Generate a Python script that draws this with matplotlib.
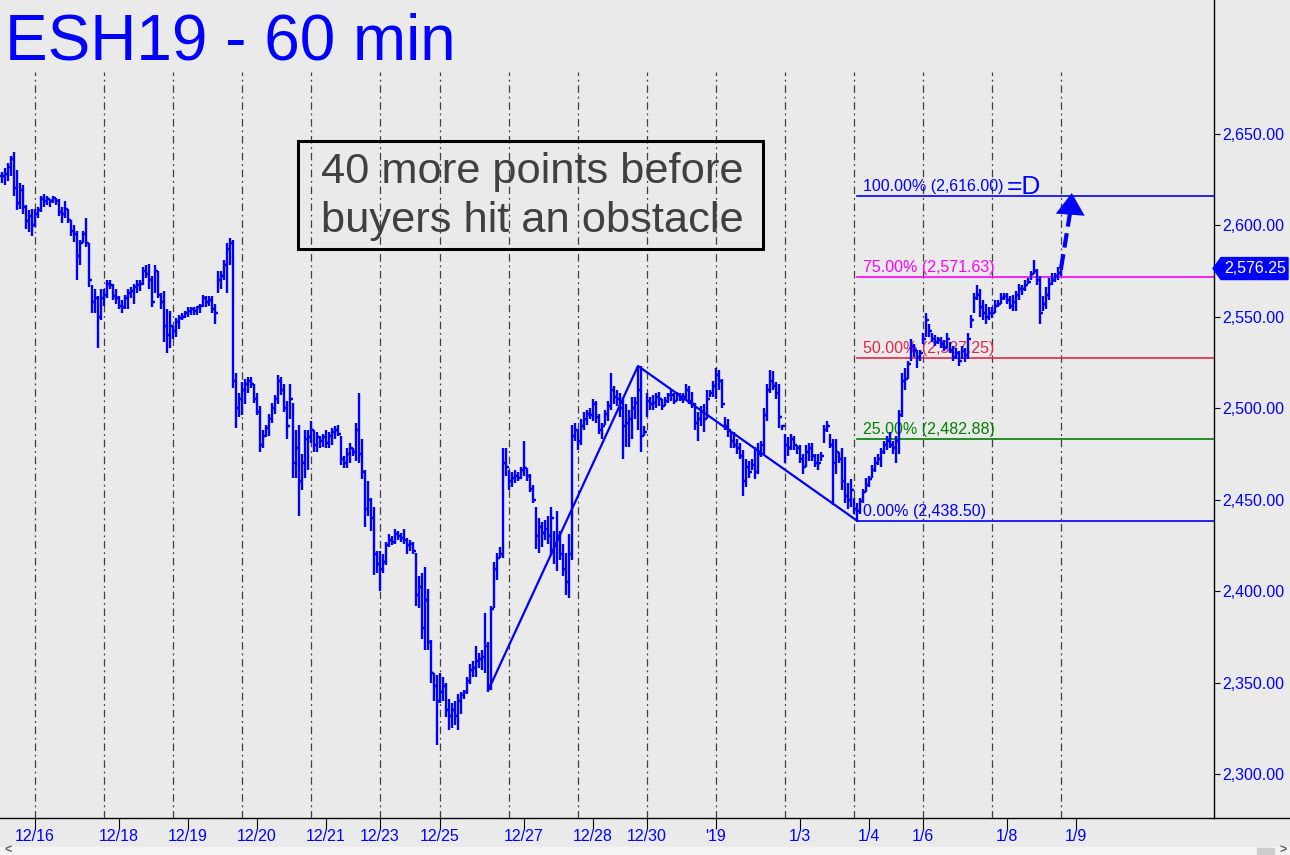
import numpy as np
import matplotlib.pyplot as plt
from matplotlib.collections import LineCollection
from matplotlib.patches import Rectangle, Polygon
from matplotlib.lines import Line2D
import matplotlib.transforms as mtransforms

plt.rcParams['font.family'] = ['Liberation Sans', 'DejaVu Sans']

# hourly bars as (high, low, close), one list per session
pre = [(2629, 2623, 2627), (2631, 2622, 2628), (2634, 2624, 2632), (2638, 2627, 2636), (2640, 2616, 2620),
       (2630, 2608, 2612), (2623, 2609, 2619), (2622, 2606, 2610), (2611, 2598, 2602), (2608, 2596, 2605),
       (2609, 2594, 2600)]
s1217 = [(2609, 2599, 2606), (2610, 2604, 2608), (2616, 2607, 2614), (2617, 2610, 2613), (2616, 2611, 2614),
         (2614, 2610, 2613), (2616, 2612, 2615), (2615, 2611, 2613), (2614, 2605, 2607), (2610, 2601, 2606),
         (2613, 2604, 2609), (2609, 2601, 2603), (2603, 2594, 2597), (2600, 2591, 2595), (2597, 2570, 2583),
         (2592, 2578, 2590), (2597, 2590, 2595), (2604, 2588, 2590), (2590, 2566, 2570), (2567, 2552, 2558),
         (2565, 2552, 2560), (2561, 2533, 2550), (2565, 2548, 2560)]
s1218 = [(2565, 2556, 2562), (2570, 2560, 2568), (2570, 2565, 2567), (2568, 2559, 2561), (2565, 2557, 2560),
         (2561, 2554, 2556), (2559, 2552, 2555), (2562, 2554, 2560), (2565, 2554, 2563), (2566, 2560, 2564),
         (2568, 2557, 2566), (2570, 2563, 2567), (2570, 2564, 2568), (2577, 2567, 2575), (2578, 2571, 2573),
         (2579, 2565, 2570), (2572, 2555, 2558), (2578, 2563, 2575), (2575, 2560, 2562), (2563, 2554, 2558),
         (2564, 2536, 2545), (2554, 2530, 2540), (2553, 2533, 2545)]
s1219 = [(2545, 2538, 2542), (2549, 2539, 2547), (2551, 2543, 2549), (2552, 2548, 2550), (2553, 2549, 2552),
         (2555, 2550, 2553), (2555, 2551, 2554), (2555, 2551, 2553), (2556, 2551, 2555), (2557, 2552, 2556),
         (2562, 2555, 2560), (2561, 2555, 2558), (2561, 2556, 2559), (2561, 2552, 2554), (2557, 2546, 2552),
         (2575, 2563, 2570), (2575, 2565, 2572), (2581, 2570, 2578), (2590, 2563, 2587), (2593, 2578, 2590),
         (2592, 2511, 2515), (2519, 2489, 2500), (2508, 2495, 2505)]
s1220 = [(2514, 2496, 2510), (2516, 2502, 2513), (2517, 2508, 2515), (2517, 2511, 2513), (2513, 2503, 2505),
         (2508, 2496, 2498), (2501, 2476, 2480), (2488, 2478, 2485), (2491, 2484, 2489), (2497, 2485, 2494),
         (2503, 2492, 2500), (2507, 2497, 2505), (2518, 2502, 2515), (2517, 2507, 2510), (2513, 2498, 2500),
         (2504, 2483, 2490), (2513, 2494, 2505), (2503, 2462, 2470), (2488, 2462, 2478), (2491, 2441, 2460),
         (2475, 2455, 2470), (2488, 2462, 2483), (2488, 2466, 2484)]
s1221 = [(2493, 2481, 2488), (2488, 2476, 2480), (2487, 2476, 2484), (2485, 2478, 2482), (2486, 2479, 2484),
         (2488, 2478, 2481), (2487, 2478, 2485), (2489, 2480, 2487), (2490, 2483, 2488), (2491, 2485, 2486),
         (2485, 2469, 2472), (2474, 2467, 2470), (2478, 2467, 2475), (2481, 2470, 2478), (2478, 2474, 2476),
         (2492, 2471, 2488), (2508, 2470, 2475), (2483, 2461, 2465), (2466, 2435, 2445), (2460, 2441, 2450),
         (2451, 2433, 2440), (2446, 2409, 2420), (2422, 2410, 2415)]
s1224 = [(2422, 2400, 2412), (2420, 2410, 2416), (2427, 2414, 2425), (2431, 2424, 2428), (2430, 2425, 2427),
         (2434, 2426, 2431), (2433, 2428, 2430), (2432, 2427, 2429), (2434, 2426, 2428), (2429, 2420, 2425),
         (2428, 2422, 2426), (2427, 2420, 2422), (2421, 2392, 2398), (2408, 2391, 2402), (2410, 2374, 2380),
         (2413, 2368, 2395), (2401, 2368, 2372), (2373, 2350, 2355), (2355, 2340, 2348), (2354, 2316, 2340)]
s1226 = [(2355, 2339, 2345), (2353, 2340, 2348), (2350, 2331, 2335), (2341, 2324, 2332), (2339, 2325, 2335),
         (2340, 2327, 2332), (2344, 2324, 2340), (2345, 2333, 2343), (2346, 2341, 2345), (2353, 2344, 2351),
         (2360, 2349, 2357), (2362, 2353, 2358), (2370, 2353, 2362), (2366, 2358, 2363), (2368, 2357, 2364),
         (2388, 2355, 2370), (2372, 2345.5, 2348), (2392, 2346, 2390), (2416, 2391, 2412), (2421, 2406, 2418),
         (2424, 2418, 2420), (2478, 2418, 2470), (2478, 2463, 2468)]
s1227 = [(2466, 2455, 2460), (2465, 2457, 2462), (2466, 2459, 2463), (2465, 2460, 2462), (2468, 2461, 2466),
         (2482, 2463, 2467), (2467, 2460, 2463), (2464, 2454, 2456), (2458, 2448, 2450), (2446, 2423, 2430),
         (2440, 2421, 2435), (2438, 2424, 2432), (2439, 2428, 2434), (2441, 2426, 2430), (2446, 2419, 2440),
         (2433, 2415, 2425), (2444, 2411, 2430), (2433, 2417, 2420), (2426, 2408, 2412), (2421, 2398, 2405),
         (2431, 2396, 2420), (2491, 2417, 2485), (2492, 2482, 2488)]
s1228 = [(2488, 2477, 2482), (2494, 2480, 2490), (2498, 2488, 2494), (2499, 2491, 2497), (2500, 2494, 2496),
         (2505, 2493, 2502), (2504, 2492, 2495), (2497, 2486, 2488), (2492, 2483, 2490), (2499, 2491, 2497),
         (2504, 2493, 2501), (2519, 2499, 2510), (2512, 2502, 2506), (2510, 2501, 2505), (2508, 2495, 2500),
         (2506, 2472, 2490), (2502, 2479, 2492), (2499, 2479, 2494), (2506, 2483, 2500), (2506, 2494, 2503),
         (2523, 2488, 2510), (2523, 2476, 2485), (2490, 2485, 2487)]
s1231 = [(2508, 2495, 2504), (2506, 2499, 2502), (2507, 2499, 2503), (2508, 2500, 2506), (2509, 2501, 2505),
         (2505, 2499, 2501), (2506, 2501, 2504), (2508, 2503, 2507), (2510, 2504, 2507), (2508, 2502, 2504),
         (2509, 2504, 2507), (2508, 2504, 2505), (2508, 2503, 2506), (2513, 2504, 2510), (2512, 2502, 2504),
         (2509, 2500, 2502), (2503, 2488, 2492), (2498, 2482, 2494), (2501, 2490, 2498), (2502, 2487, 2494),
         (2510, 2494, 2505), (2510, 2506, 2508), (2515, 2506, 2512)]
s0102 = [(2522, 2505, 2518), (2521, 2510, 2515), (2516, 2500, 2502), (2495, 2488, 2490), (2494, 2484, 2488),
         (2487, 2478, 2482), (2487, 2478, 2480), (2483, 2475, 2478), (2481, 2472, 2474), (2477, 2452, 2460),
         (2472, 2457, 2468), (2471, 2462, 2465), (2472, 2466, 2469), (2479, 2461, 2465), (2481, 2464, 2475),
         (2482, 2473, 2480), (2500, 2475, 2496), (2513, 2493, 2510), (2521, 2508, 2515), (2520, 2510, 2512),
         (2514, 2505, 2508), (2513, 2489, 2495), (2491, 2488, 2490)]
s0103 = [(2486, 2470, 2480), (2484, 2474, 2478), (2486, 2477, 2483), (2485, 2477, 2480), (2480, 2475, 2478),
         (2480, 2470, 2472), (2475, 2464, 2468), (2480, 2468, 2476), (2481, 2471, 2478), (2481, 2471, 2474),
         (2475, 2468, 2470), (2475, 2466, 2470), (2476, 2471, 2474), (2491, 2481, 2488), (2493, 2487, 2490),
         (2486, 2478, 2480), (2483, 2447, 2470), (2483, 2464, 2476), (2476, 2470, 2472), (2478, 2455, 2460),
         (2473, 2448, 2452), (2459, 2445, 2450), (2461, 2446, 2455)]
s0104 = [(2451, 2442, 2445), (2448, 2438.5, 2444), (2451, 2442, 2449), (2456, 2448, 2454), (2462, 2454, 2458),
         (2463, 2457, 2461), (2469, 2462, 2466), (2473, 2465, 2470), (2475, 2469, 2472), (2478, 2468, 2476),
         (2482, 2475, 2480), (2485, 2477, 2482), (2487, 2478, 2480), (2482, 2475, 2478), (2485, 2470, 2482),
         (2499, 2475, 2496), (2519, 2495, 2515), (2522, 2510, 2516), (2526, 2516, 2524), (2538, 2526, 2534),
         (2535, 2528, 2532), (2532, 2522, 2528), (2532, 2526, 2530)]
s0107 = [(2541, 2535, 2538), (2552, 2539, 2548), (2546, 2539, 2542), (2541, 2536, 2538), (2540, 2534, 2536),
         (2539, 2535, 2537), (2539, 2533, 2535), (2537, 2531, 2533), (2541, 2533, 2538), (2536, 2530, 2532),
         (2534, 2526, 2528), (2533, 2527, 2530), (2531, 2523, 2526), (2534, 2527, 2531), (2533, 2525, 2529),
         (2541, 2527, 2538), (2551, 2544, 2548), (2563, 2552, 2560), (2567, 2559, 2562), (2565, 2550, 2555),
         (2559, 2548, 2552), (2557, 2546, 2550), (2555, 2548, 2552)]
s0108 = [(2555, 2549, 2552), (2559, 2552, 2556), (2559, 2555, 2557), (2563, 2557, 2560), (2563, 2559, 2561),
         (2563, 2557, 2559), (2561, 2554, 2556), (2562, 2553, 2558), (2564, 2553, 2562), (2568, 2559, 2565),
         (2567, 2562, 2565), (2570, 2564, 2567), (2571, 2568, 2569), (2575, 2570, 2573), (2581, 2573, 2575),
         (2576, 2567, 2570), (2572, 2546, 2552), (2561, 2553, 2557), (2566, 2554, 2562), (2571, 2559, 2568),
         (2574, 2567, 2570), (2574, 2569, 2572), (2577, 2570, 2574)]
s0109 = [(2579, 2572, 2576.25)]

sessions = [pre, s1217, s1218, s1219, s1220, s1221, s1224, s1226, s1227, s1228,
            s1231, s0102, s0103, s0104, s0107, s0108, s0109]

# date labels: session they belong to and hours after the session open
date_labels = ['12/16', '12/18', '12/19', '12/20', '12/21', '12/23', '12/25', '12/27',
               '12/28', '12/30', "'19", '1/3', '1/4', '1/6', '1/8', '1/9']
date_session = [1, 2, 3, 4, 5, 6, 7, 8, 9, 10, 11, 12, 13, 14, 15, 16]
date_offset = [0, 5, 5, 5, 5, 0, 0, 5, 5, 0, 0, 5, 5, 0, 5, 5]

# ABC pivots (bar index) for the projection
pivot_bars = [162, 212, 285]
fib_pcts = [0.0, 0.25, 0.50, 0.75, 1.0]
fib_colors = ['#0000ff', '#008000', '#e0284a', '#ff00ff', '#0000ff']

bars = [b for s in sessions for b in s]
hi = np.array([b[0] for b in bars], dtype=float)
lo = np.array([b[1] for b in bars], dtype=float)
cl = np.array([b[2] for b in bars], dtype=float)
op = np.r_[cl[0], cl[:-1]]
idx = np.arange(len(bars))
starts = np.cumsum([0] + [len(s) for s in sessions])[:-1]

W, H = 1290, 855
BG = '#eaeaea'
BLUE = '#0000ff'

fig = plt.figure(figsize=(W / 100, H / 100), dpi=100)
fig.patch.set_facecolor(BG)
ax = fig.add_axes([0, (H - 818) / H, 1214 / W, 818 / H])
ax.set_facecolor(BG)
ax.set_xlim(-2 / 3, 404)
ax.set_ylim(2276, 2723)

for sp in ['top', 'left']:
    ax.spines[sp].set_visible(False)
for sp in ['right', 'bottom']:
    ax.spines[sp].set_color('black')
    ax.spines[sp].set_linewidth(1.0)

# price axis on the right
ax.yaxis.tick_right()
ax.set_yticks(np.arange(2300, 2651, 50))
ax.set_yticklabels([f"{v:,.2f}" for v in np.arange(2300, 2651, 50)])
ax.tick_params(axis='y', direction='out', length=4, width=0.8, color='black',
               labelcolor=BLUE, labelsize=11.5, pad=2)

# date axis
tick_pos = [starts[s] + o for s, o in zip(date_session, date_offset)]
ax.set_xticks(tick_pos)
ax.set_xticklabels(date_labels)
ax.tick_params(axis='x', direction='out', length=8, width=0.8, color='black',
               labelcolor=BLUE, labelsize=11.5, pad=0)

# session separators
for s in starts[1:]:
    ax.axvline(s, ymin=0, ymax=(818 - 72) / 818, color='#404040', lw=0.9,
               dashes=(6, 3, 1.5, 3), zorder=1)

# projection levels
A, B, C = lo[pivot_bars[0]], hi[pivot_bars[1]], lo[pivot_bars[2]]
levels = [C + p * (B - A) for p in fib_pcts]
fib_texts = []
for p, lvl, col in zip(fib_pcts, levels, fib_colors):
    ax.plot([pivot_bars[2], 404], [lvl, lvl], color=col, lw=1.2, zorder=2)
    t = ax.text(pivot_bars[2] + 2, lvl + 2.8, f"{p * 100:.2f}% ({lvl + 1e-9:,.2f})",
                color=col, fontsize=11.5, va='baseline', ha='left', zorder=3)
    fib_texts.append(t)
ax.annotate('=D', xy=(1, 0), xycoords=fib_texts[-1], xytext=(2, -3.5),
            textcoords='offset points', color=BLUE, fontsize=19, va='bottom', ha='left')

# OHLC bars
segs = []
for i in idx:
    segs.append([(i, lo[i]), (i, hi[i])])
    segs.append([(i - 0.65, op[i]), (i, op[i])])
    segs.append([(i, cl[i]), (i + 0.65, cl[i])])
ax.add_collection(LineCollection(segs, colors=BLUE, linewidths=1.7, capstyle='butt', zorder=4))

# ABC swing lines
ax.plot(pivot_bars, [A, B, C], color=BLUE, lw=1.6, zorder=5)

# dashed projection arrow
tip_x, tip_y = idx[-1] + 3.6, levels[-1] + 1.5
ax.plot([idx[-1], tip_x - 0.4], [cl[-1], tip_y - 9], color=BLUE, lw=3, dashes=(3.5, 1.6),
        zorder=6, solid_capstyle='butt')
ax.annotate('', xy=(tip_x, tip_y), xytext=(tip_x - 0.4, tip_y - 9),
            arrowprops=dict(arrowstyle='-|>,head_length=0.6,head_width=0.4', color=BLUE,
                            lw=0, mutation_scale=26, shrinkA=0, shrinkB=0), zorder=6)

# last price marker on the price axis
trans = mtransforms.blended_transform_factory(fig.transFigure, ax.transData)
hh = 6.0
marker = Polygon([(1213 / W, cl[-1]), (1221 / W, cl[-1] + hh), (1288 / W, cl[-1] + hh),
                  (1288 / W, cl[-1] - hh), (1221 / W, cl[-1] - hh)], closed=True,
                 facecolor=BLUE, edgecolor=BLUE, transform=trans, clip_on=False, zorder=10)
ax.add_patch(marker)
ax.text(1224 / W, cl[-1], f"{cl[-1]:,.2f}", transform=trans, color='white', fontsize=11.5,
        va='center', ha='left', clip_on=False, zorder=11)

# title and comment box
fig.text(5 / W, 1 - 60 / H, 'ESH19 - 60 min', color=BLUE, fontsize=46, va='baseline', ha='left')
fig.patches.append(Rectangle((298 / W, 1 - 249 / H), 465 / W, 108 / H, fill=False,
                             edgecolor='black', lw=2.2, transform=fig.transFigure, figure=fig))
fig.text(321 / W, 1 - 183 / H, '40 more points before', color='#404040', fontsize=31.2,
         va='baseline', ha='left')
fig.text(321 / W, 1 - 232 / H, 'buyers hit an obstacle', color='#404040', fontsize=31.2,
         va='baseline', ha='left')

# axis line continues under the price scale, scrollbar strip at the bottom
fig.add_artist(Line2D([1214 / W, 1], [1 - 818 / H] * 2, color='black', lw=1.0))
fig.patches.append(Rectangle((0, 0), 1, 8 / H, color='#f4f4f4', transform=fig.transFigure, figure=fig))
fig.patches.append(Rectangle((1257 / W, 0), 17 / W, 7 / H, color='#cdcdcd', transform=fig.transFigure, figure=fig))
fig.text(8 / W, 4 / H, '<', color='#606060', fontsize=9, fontweight='bold', va='center', ha='center')
fig.text(1283 / W, 4 / H, '>', color='#606060', fontsize=9, fontweight='bold', va='center', ha='center')

fig.savefig('out.png', dpi=100, facecolor=BG)
